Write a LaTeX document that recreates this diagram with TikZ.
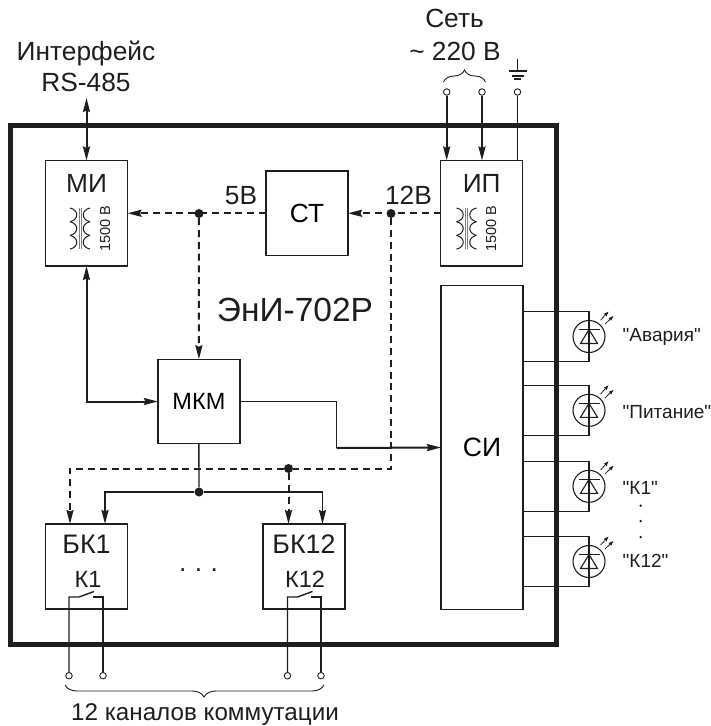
\documentclass[tikz,border=0pt]{standalone}
\usepackage{fontspec}
\setmainfont{Liberation Sans}
\newfontfamily\plainsans[Ligatures=ResetAll]{Liberation Sans}
\usetikzlibrary{arrows.meta,calc,decorations.pathreplacing}
\definecolor{ink}{RGB}{30,30,30}
\tikzset{
	blockbox/.style={draw=ink,line width=1.4pt,inner sep=0pt,outer sep=0pt,minimum width=82pt,font=\fontsize{26.3}{26.3}\selectfont},
	framebox/.style={draw=ink,line width=5pt,inner sep=0pt,outer sep=0pt,minimum width=546.5pt,minimum height=518.5pt},
	txt/.style={anchor=base,inner sep=0pt,text=ink,font=\fontsize{26.3}{26.3}\selectfont},
	smalltxt/.style={anchor=base west,inner sep=0pt,text=ink,font=\plainsans\fontsize{19}{19}\selectfont},
	isotxt/.style={anchor=base,inner sep=0pt,text=ink,rotate=90,font=\fontsize{14.5}{14.5}\selectfont},
	dotnode/.style={circle,fill=ink,inner sep=0pt,minimum size=9pt},
	termnode/.style={circle,draw=ink,fill=white,line width=0.9pt,inner sep=0pt,minimum size=6.5pt},
	ledring/.style={circle,draw=ink,line width=1.1pt,inner sep=0pt,minimum size=32pt},
	thin wire/.style={draw=ink,line width=1.4pt},
	thick wire/.style={draw=ink,line width=2pt},
	dash wire/.style={draw=ink,line width=2pt,dash pattern=on 7pt off 4.8pt},
	tip/.style={-{Stealth[length=14pt,width=7pt,inset=1.5pt]}},
	bothtips/.style={{Stealth[length=14pt,width=7pt,inset=1.5pt]}-{Stealth[length=14pt,width=7pt,inset=1.5pt]}},
	smalltip/.style={-{Stealth[length=5pt,width=3.5pt,inset=0.5pt]}},
	brace wire/.style={draw=ink,line width=0.9pt,decorate},
}
% transformer sign, given by the top of its core
\newcommand{\trafosign}[2]{
	\begin{scope}[shift={(#1,#2)}]
		\foreach \k in {0,1,2} {
			\draw[ink,line width=1pt] (-10,\k*13.7) .. controls (-1,\k*13.7+2) and (-1,\k*13.7+11.7) .. (-10,\k*13.7+13.7);
			\draw[ink,line width=1pt] (10,\k*13.7) .. controls (1,\k*13.7+2) and (1,\k*13.7+11.7) .. (10,\k*13.7+13.7);
		}
		\draw[gray,line width=0.8pt] (-1,0) -- (-1,41);
		\draw[gray,line width=0.8pt] (1,0) -- (1,41);
	\end{scope}
}
\begin{document}
\begin{tikzpicture}[x=1pt,y=-1pt]
	\useasboundingbox (0,0) rectangle (711,726);
	% blocks
	\node[blockbox,minimum height=105.5pt] (mi) at (86.5,213.25) {};
	\node[blockbox,minimum height=84.5pt] (st) at (307,213.25) {СТ};
	\node[blockbox,minimum height=105.5pt] (ip) at (481.7,213.25) {};
	\node[blockbox,minimum height=84.5pt,font=\fontsize{23.5}{23.5}\selectfont] (mkm) at (198.9,401.5) {МКМ};
	\node[blockbox,minimum height=323.6pt,font=\fontsize{26.5}{26.5}\selectfont] (si) at (482,447.5) {СИ};
	\node[blockbox,minimum height=85pt] (bk1) at (86.5,566.5) {};
	\node[blockbox,minimum height=85pt] (bk12) at (304,566.5) {};
	% block texts
	\node[txt] (mitxt) at (mi |- 0,192) {МИ};
	\node[txt] (iptxt) at (ip |- 0,192) {ИП};
	\node[txt,font=\fontsize{26.8}{26.8}\selectfont] (bk1txt) at (bk1 |- 0,553.3) {БК1};
	\node[txt,font=\fontsize{26.8}{26.8}\selectfont] (bk12txt) at (bk12 |- 0,553.3) {БК12};
	\node[txt,font=\fontsize{23.5}{23.5}\selectfont] (k1txt) at (88,587.3) {К1};
	\node[txt,font=\fontsize{23.5}{23.5}\selectfont] (k12txt) at (305,587.3) {К12};
	\node[isotxt] (miiso) at (110,229) {1500 В};
	\node[isotxt] (ipiso) at (496,229) {1500 В};
	\trafosign{80}{208}
	\trafosign{466.5}{208}
	\node[txt] (vfive) at (241,204) {5В};
	\node[txt] (vtwelve) at (408.5,204) {12В};
	\node[txt,font=\fontsize{33.5}{33.5}\selectfont] (title) at (295,321.7) {ЭнИ-702Р};
	\node[txt] (bkdots) at (198.5,571) {.\hspace{8.5pt}.\hspace{8.5pt}.};
	% outside texts
	\node[txt] (iface) at (86,60) {Интерфейс};
	\node[txt] (rs) at (86,91.7) {RS-485};
	\node[txt] (mains) at (454.5,27.3) {Сеть};
	\node[txt] (volts) at (455,60) {\textasciitilde{} 220 В};
	\node[txt,font=\fontsize{24.2}{24.2}\selectfont] (chans) at (205,720.5) {12 каналов коммутации};
	% power and data lines
	\node[dotnode] (jfive) at (199,213.5) {};
	\node[dotnode] (jtwelve) at (391,213.5) {};
	\node[dotnode] (jbus) at (288.5,468.5) {};
	\node[dotnode] (jctl) at (199,492) {};
	\coordinate (busend) at (391,468.5);
	\coordinate (busleft) at (70,468.5);
	\coordinate (ctlleft) at (105,492);
	\coordinate (ctlright) at (322.5,492);
	\coordinate (rsend) at (86.5,98);
	\draw[dash wire,tip] (st.west) -- (mi.east);
	\draw[dash wire,tip] (ip.west) -- (st.east);
	\draw[dash wire,tip] (jfive) -- (mkm.north);
	\draw[dash wire] (jtwelve) -- (busend) -- (jbus);
	\draw[dash wire,tip] (jbus) -- (busleft) -- (busleft |- bk1.north);
	\draw[dash wire,tip] (jbus) -- (jbus |- bk12.north);
	\draw[thin wire] (mkm.south) -- (jctl);
	\draw[thick wire,tip] (jctl) -- (ctlleft) -- (ctlleft |- bk1.north);
	\draw[thin wire,tip] (jctl) -- (ctlright) -- (ctlright |- bk12.north);
	\draw[thick wire,bothtips] (mi.south) -- (mi.south |- mkm.west) -- (mkm.west);
	\draw[thin wire] (mkm.east) -- (336.7,401.5) -- (336.7,448);
	\draw[thick wire,tip] (336.7,448) -- (si.west);
	\draw[thick wire,bothtips] (rsend) -- (mi.north);
	% mains
	\node[termnode] (mainsa) at (446.7,92) {};
	\node[termnode] (mainsb) at (482,92) {};
	\node[termnode] (earth) at (517.5,92) {};
	\draw[thick wire,tip] (mainsa) -- (mainsa |- ip.north);
	\draw[thick wire,tip] (mainsb) -- (mainsb |- ip.north);
	\draw[thin wire] (earth) -- (earth |- ip.north);
	\draw[brace wire,decoration={brace,amplitude=12pt}] (443.5,82) -- (485.5,82);
	\coordinate (gnd) at (517.5,71);
	\draw[ink,line width=1.4pt] (gnd) -- ++(0,-12);
	\draw[ink,line width=1.4pt] ($(gnd)+(-9,0)$) -- ($(gnd)+(9,0)$);
	\draw[ink,line width=1.4pt] ($(gnd)+(-6,5)$) -- ($(gnd)+(6,5)$);
	\draw[ink,line width=1.4pt] ($(gnd)+(-3.5,8)$) -- ($(gnd)+(3.5,8)$);
	% relay contacts and their outputs
	\foreach \nm/\xa/\xb in {bk1/69/103,bk12/287.5/321} {
		\node[termnode] (\nm a) at (\xa,675.7) {};
		\node[termnode] (\nm b) at (\xb,675.7) {};
		\draw[thin wire] (\nm a) -- (\xa,597) -- (\xa+10,597) -- (\xa+25,591.5);
		\draw[thin wire] (\nm b) -- (\xb,597) -- (\xb-10,597);
	}
	\draw[brace wire,decoration={brace,amplitude=12pt,aspect=0.463}] (324,685) -- (65,685);
	% indicators
	\foreach \nm/\ya/\lab/\yb in {alarm/336.5/"Авария"/341.7,power/410.3/"Питание"/418,chone/486.3/"К1"/494,chtwelve/561.5/"К12"/567.3} {
		\node[ledring] (\nm) at (589,\ya) {};
		\draw[thin wire] (si.east |- 0,\ya-25) -- (589,\ya-25) -- (589,\ya+25) -- (si.east |- 0,\ya+25);
		\draw[ink,line width=1.1pt] (578.5,\ya-7) -- (599.5,\ya-7);
		\draw[ink,line width=1.1pt] (589,\ya-7) -- (580.5,\ya+7) -- (597.5,\ya+7) -- cycle;
		\draw[ink,line width=0.8pt,smalltip] (600.7,\ya-16.5) -- (608.5,\ya-25);
		\draw[ink,line width=0.8pt,smalltip] (605,\ya-12.5) -- (613.5,\ya-20.5);
		\node[smalltxt] (\nm txt) at (622.5,\yb) {\lab};
	}
	\foreach \k/\yd in {a/505.7,b/521,c/537} {
		\node[circle,fill=ink,inner sep=0pt,minimum size=2.6pt] (dot\k) at (640.7,\yd) {};
	}
	% housing
	\node[framebox] (housing) at (283.25,385) {};
\end{tikzpicture}
\end{document}
